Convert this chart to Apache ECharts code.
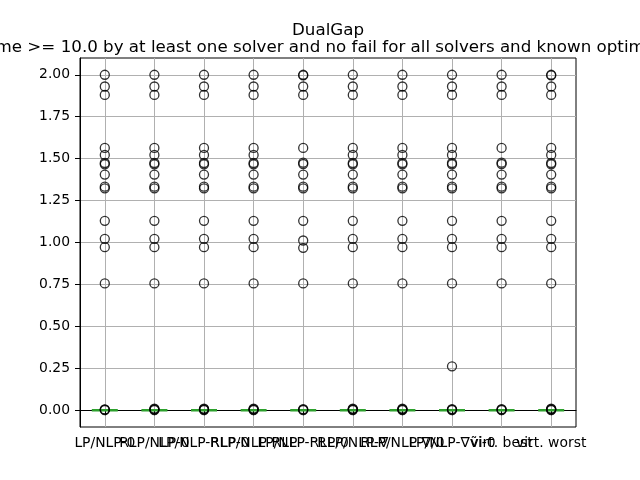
<!DOCTYPE html>
<html>
<head>
<meta charset="utf-8">
<script src="https://cdn.jsdelivr.net/npm/echarts@6/dist/echarts.min.js"></script>
<style>
  html, body { margin: 0; padding: 0; background: #fff; }
  #main { width: 640px; height: 480px; }
</style>
</head>
<body>
<div id="main"></div>
<script>
// solvers on the x axis
const solvers = ['LP/NLP-0', 'RLP/NLP-0', 'LP/NLP-RLP-0', 'RLP/NLP-RLP', 'LP/NLP-RLP/0',
  'RLP/NLP-∇', 'RLP/NLP-∇/0', 'LP/NLP-∇ṽi-0', 'virt. best', 'virt. worst'];

// box stats per solver [min, q1, median, q3, max]
const boxStats = [
  [0, 0, 0, 0, 0], [0, 0, 0, 0, 0], [0, 0, 0, 0, 0], [0, 0, 0, 0, 0], [0, 0, 0, 0, 0],
  [0, 0, 0, 0, 0], [0, 0, 0, 0, 0], [0, 0, 0, 0, 0], [0, 0, 0, 0, 0], [0, 0, 0, 0, 0]
];

// outliers per solver
const outliers = [
  [2.0, 1.93, 1.88, 1.564, 1.522, 1.474, 1.466, 1.405, 1.333, 1.323, 1.129, 1.022, 0.972, 0.756, 0.001, 0.003, 0.005],
  [2.0, 1.93, 1.88, 1.564, 1.522, 1.474, 1.466, 1.405, 1.333, 1.323, 1.129, 1.022, 0.972, 0.756, 0.001, 0.004, 0.007, 0.009],
  [2.0, 1.93, 1.88, 1.564, 1.522, 1.474, 1.466, 1.405, 1.333, 1.323, 1.129, 1.022, 0.972, 0.756, 0.001, 0.004, 0.007, 0.009],
  [2.0, 1.93, 1.88, 1.564, 1.522, 1.474, 1.466, 1.405, 1.333, 1.323, 1.129, 1.022, 0.972, 0.756, 0.001, 0.004, 0.007, 0.009],
  [2.0, 1.996, 1.93, 1.88, 1.564, 1.476, 1.468, 1.405, 1.333, 1.323, 1.129, 1.012, 0.968, 0.756, 0.001, 0.003, 0.006],
  [2.0, 1.93, 1.88, 1.564, 1.522, 1.474, 1.466, 1.405, 1.333, 1.323, 1.129, 1.022, 0.972, 0.756, 0.001, 0.004, 0.007, 0.009],
  [2.0, 1.93, 1.88, 1.564, 1.522, 1.474, 1.466, 1.405, 1.333, 1.323, 1.129, 1.022, 0.972, 0.756, 0.001, 0.004, 0.007, 0.009],
  [2.0, 1.93, 1.88, 1.564, 1.522, 1.474, 1.466, 1.405, 1.333, 1.323, 1.129, 1.022, 0.972, 0.756, 0.262, 0.001, 0.004, 0.007],
  [2.0, 1.93, 1.88, 1.564, 1.476, 1.468, 1.405, 1.333, 1.323, 1.129, 1.022, 0.972, 0.756, 0.001, 0.003, 0.006],
  [2.0, 1.996, 1.93, 1.88, 1.564, 1.522, 1.474, 1.466, 1.405, 1.333, 1.323, 1.129, 1.022, 0.972, 0.756, 0.001, 0.004, 0.007, 0.009]
];

const yTicks = [0, 0.25, 0.5, 0.75, 1.0, 1.25, 1.5, 1.75, 2.0];

const titleText = 'DualGap';
const subText = 'time >= 10.0 by at least one solver and no fail for all solvers and known optimum';

const font = 'DejaVu Sans';
const chart = echarts.init(document.getElementById('main'));

const flierData = [];
outliers.forEach((vals, i) => {
  vals.forEach(v => flierData.push([i, v]));
});

const option = {
  animation: false,
  backgroundColor: '#fff',
  title: [
    { text: titleText, left: 323, top: 17, textAlign: 'center',
      textStyle: { fontFamily: font, fontSize: 16.7, fontWeight: 'normal', color: '#000' } },
    { text: subText, left: 323, top: 34, textAlign: 'center',
      textStyle: { fontFamily: font, fontSize: 16.7, fontWeight: 'normal', color: '#000' } }
  ],
  grid: { left: 80, right: 64, top: 58, bottom: 53, show: true, borderColor: '#000', borderWidth: 1, backgroundColor: 'transparent' },
  xAxis: {
    type: 'category',
    data: solvers,
    boundaryGap: true,
    axisLine: { show: true, lineStyle: { color: '#000', width: 1 } },
    axisTick: { show: true, alignWithLabel: true, length: 5, lineStyle: { color: '#000' } },
    axisLabel: { interval: 0, margin: 9, color: '#000', fontFamily: font, fontSize: 13.9, hideOverlap: false },
    splitLine: { show: true, alignWithLabel: true, lineStyle: { color: '#b0b0b0', width: 1 } }
  },
  yAxis: {
    type: 'value',
    min: -0.1,
    max: 2.1,
    axisLine: { show: true, lineStyle: { color: '#000', width: 1 } },
    axisTick: { show: true, length: 5, customValues: yTicks, lineStyle: { color: '#000' } },
    axisLabel: { customValues: yTicks, margin: 10, color: '#000', fontFamily: font, fontSize: 13.9,
      formatter: v => v.toFixed(2) },
    splitLine: { show: true, lineStyle: { color: '#b0b0b0', width: 1 } }
  },
  series: [
    {
      type: 'boxplot',
      data: boxStats,
      boxWidth: [26, 26],
      itemStyle: { color: 'rgba(0,0,0,0)', borderColor: '#2ca02c', borderWidth: 2.5, opacity: 1 },
      z: 2
    },
    {
      type: 'scatter',
      data: flierData,
      symbol: 'circle',
      symbolSize: 9,
      itemStyle: { color: 'rgba(0,0,0,0)', borderColor: '#000', borderWidth: 1.3 },
      z: 3
    }
  ]
};

chart.setOption(option);
</script>
</body>
</html>
